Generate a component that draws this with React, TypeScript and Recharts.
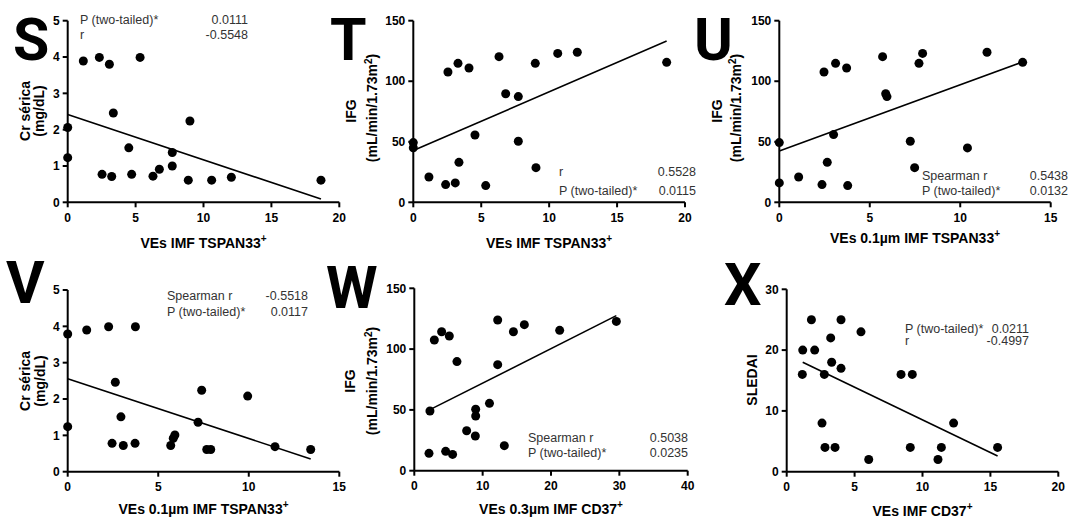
import React from 'react';
import { ComposedChart, Scatter, XAxis, YAxis, ReferenceLine } from 'recharts';

const FONT = 'Arial, "Liberation Sans", Helvetica, sans-serif';
const LETTER_FONT = 'Roboto, "Liberation Sans", sans-serif';
const W = 1073;
const H = 523;

// tick labels
const ticks0to20 = [0, 5, 10, 15, 20];
const ticks0to15 = [0, 5, 10, 15];
const ticks0to40 = [0, 10, 20, 30, 40];
const ticks0to5 = [0, 1, 2, 3, 4, 5];
const ticks0to150 = [0, 50, 100, 150];
const ticks0to30 = [0, 10, 20, 30];

// S: Cr sérica vs VEs IMF TSPAN33+
const sX = [0, 0, 1.15, 2.33, 3.07, 5.33, 3.36, 9.0, 4.5, 7.7, 7.7, 6.75, 6.28, 2.53, 3.24, 4.71, 8.88, 10.6, 12.05, 18.65];
const sY = [2.06, 1.23, 3.89, 3.99, 3.8, 3.99, 2.46, 2.24, 1.5, 1.37, 1.0, 0.91, 0.72, 0.77, 0.71, 0.77, 0.61, 0.61, 0.69, 0.61];
const sFit = [[0, 2.42], [18.65, 0.09]];
const sStats = [['P (two-tailed)*', '0.0111'], ['r', '-0.5548']];

// T: IFG vs VEs IMF TSPAN33+
const tX = [0, 0, 1.15, 2.38, 3.09, 3.36, 2.55, 3.29, 4.1, 4.54, 5.33, 6.31, 6.8, 7.73, 7.73, 8.98, 9.03, 10.63, 12.07, 18.65];
const tY = [49.3, 45.1, 20.9, 14.6, 16.0, 33.0, 107.6, 114.8, 110.9, 55.6, 13.8, 120.3, 89.7, 87.3, 50.4, 114.8, 28.6, 123.0, 123.9, 115.6];
const tFit = [[0, 42.7], [18.65, 133.2]];
const tStats = [['r', '0.5528'], ['P (two-tailed)*', '0.0115']];

// U: IFG vs VEs 0.1um IMF TSPAN33+
const uX = [0, 0, 1.07, 2.36, 2.65, 3.0, 2.47, 3.11, 3.72, 3.78, 5.71, 5.88, 5.95, 7.24, 7.48, 7.72, 7.92, 10.4, 11.48, 13.45];
const uY = [49.3, 16.0, 20.9, 14.6, 33.0, 55.9, 107.6, 114.8, 110.9, 13.8, 120.3, 89.7, 87.3, 50.4, 28.6, 114.8, 123.0, 44.9, 123.9, 115.6];
const uFit = [[0, 42.4], [13.45, 115.9]];
const uStats = [['Spearman r', '0.5438'], ['P (two-tailed)*', '0.0132']];

// V: Cr sérica vs VEs 0.1um IMF TSPAN33+
const vX = [0, 0, 1.05, 2.26, 3.74, 2.63, 2.94, 2.45, 3.07, 3.72, 5.69, 5.83, 5.92, 7.2, 7.4, 7.68, 7.9, 9.94, 11.45, 13.42];
const vY = [3.79, 1.24, 3.9, 3.99, 3.99, 2.46, 1.51, 0.78, 0.72, 0.78, 0.72, 0.92, 1.01, 1.36, 2.24, 0.61, 0.61, 2.08, 0.69, 0.61];
const vFit = [[0, 2.56], [13.42, 0.35]];
const vStats = [['Spearman r', '-0.5518'], ['P (two-tailed)*', '0.0117']];

// W: IFG vs VEs 0.3um IMF CD37+
const wX = [2.29, 2.15, 2.93, 4.0, 5.12, 6.24, 4.59, 5.6, 7.66, 8.98, 8.98, 8.93, 11.0, 12.2, 12.2, 13.17, 14.5, 16.1, 21.27, 29.56];
const wY = [49.1, 14.3, 107.5, 114.3, 110.8, 89.7, 15.9, 13.4, 32.9, 50.5, 45.0, 28.5, 55.4, 123.9, 87.2, 20.6, 114.3, 120.1, 115.4, 122.8];
const wFit = [[2.29, 50.2], [29.56, 127.5]];
const wStats = [['Spearman r', '0.5038'], ['P (two-tailed)*', '0.0235']];

// X: SLEDAI vs VEs IMF CD37+
const xX = [1.18, 1.15, 1.82, 2.06, 2.6, 2.82, 2.77, 3.24, 3.31, 3.56, 4.0, 4.0, 5.47, 6.04, 8.42, 9.25, 9.1, 11.14, 11.39, 12.29, 15.53];
const xY = [20, 16, 25, 20, 8, 4, 16, 22, 18, 4, 25, 17, 23, 2, 16, 16, 4, 2, 4, 8, 4];
const xFit = [[1.18, 18.0], [15.53, 2.58]];
const xStats = [['P (two-tailed)*', '0.0211'], ['r', '-0.4997']];

const toPoints = (xs: number[], ys: number[]) => xs.map((x, i) => ({ x, y: ys[i] }));

const panels = [
  { id: 'S', xs: sX, ys: sY, fit: sFit, xDomain: [0, 20], xTicks: ticks0to20, yDomain: [0, 5], yTicks: ticks0to5, l: 67.7, r: 339.3, t: 20.7, b: 202.3 },
  { id: 'T', xs: tX, ys: tY, fit: tFit, xDomain: [0, 20], xTicks: ticks0to20, yDomain: [0, 150], yTicks: ticks0to150, l: 413.3, r: 685, t: 20.7, b: 202.3 },
  { id: 'U', xs: uX, ys: uY, fit: uFit, xDomain: [0, 15], xTicks: ticks0to15, yDomain: [0, 150], yTicks: ticks0to150, l: 779.3, r: 1050.7, t: 20.7, b: 202.3 },
  { id: 'V', xs: vX, ys: vY, fit: vFit, xDomain: [0, 15], xTicks: ticks0to15, yDomain: [0, 5], yTicks: ticks0to5, l: 67.7, r: 339.3, t: 290, b: 471.7 },
  { id: 'W', xs: wX, ys: wY, fit: wFit, xDomain: [0, 40], xTicks: ticks0to40, yDomain: [0, 150], yTicks: ticks0to150, l: 414.3, r: 687.7, t: 288.3, b: 470.7 },
  { id: 'X', xs: xX, ys: xY, fit: xFit, xDomain: [0, 20], xTicks: ticks0to20, yDomain: [0, 30], yTicks: ticks0to30, l: 786.7, r: 1058.3, t: 289.3, b: 471.7 },
];

const axisStroke = { stroke: '#000', strokeWidth: 2 };
const tickStyle = { fill: '#000', fontSize: 12, fontWeight: 700, fontFamily: FONT };

const Dot = (p: any) => <circle cx={p.cx} cy={p.cy} r={4.5} fill="#000" />;

const Panel = ({ p }: { p: (typeof panels)[number] }) => (
  <div style={{ position: 'absolute', left: 0, top: 0 }}>
    <ComposedChart
      width={W}
      height={H}
      margin={{ left: p.l - 40, right: W - p.r, top: p.t, bottom: H - p.b - 30 }}
    >
      <XAxis
        type="number"
        dataKey="x"
        domain={p.xDomain}
        ticks={p.xTicks}
        interval={0}
        height={30}
        tickSize={5}
        tickMargin={6}
        axisLine={axisStroke}
        tickLine={axisStroke}
        tick={tickStyle}
      />
      <YAxis
        type="number"
        dataKey="y"
        domain={p.yDomain}
        ticks={p.yTicks}
        interval={0}
        width={40}
        tickSize={5}
        tickMargin={3}
        axisLine={axisStroke}
        tickLine={axisStroke}
        tick={tickStyle}
      />
      <ReferenceLine
        segment={[{ x: p.fit[0][0], y: p.fit[0][1] }, { x: p.fit[1][0], y: p.fit[1][1] }]}
        stroke="#000"
        strokeWidth={1.6}
      />
      <Scatter data={toPoints(p.xs, p.ys)} shape={Dot} isAnimationActive={false} />
    </ComposedChart>
  </div>
);

const Stats = ({ rows, left, right, y0, y1 }: { rows: string[][]; left: number; right: number; y0: number; y1: number }) => (
  <g fontFamily={FONT} fontSize={12.5} fill="#333">
    <text x={left} y={y0}>{rows[0][0]}</text>
    <text x={right} y={y0} textAnchor="end">{rows[0][1]}</text>
    <text x={left} y={y1}>{rows[1][0]}</text>
    <text x={right} y={y1} textAnchor="end">{rows[1][1]}</text>
  </g>
);

const XTitle = ({ x, y, text, sup }: { x: number; y: number; text: string; sup: string }) => (
  <text x={x} y={y} textAnchor="middle" fontFamily={FONT} fontSize={14} fontWeight={700} fill="#000">
    {text}
    <tspan dy={-6} fontSize={10}>{sup}</tspan>
  </text>
);

const YTitle = ({ x, y, children }: { x: number; y: number; children: React.ReactNode }) => (
  <text
    transform={`translate(${x},${y}) rotate(-90)`}
    textAnchor="middle"
    fontFamily={FONT}
    fontSize={14}
    fontWeight={700}
    fill="#000"
  >
    {children}
  </text>
);

const Units = () => (
  <>
    (mL/min/1.73m<tspan dy={-5} fontSize={10}>2</tspan>
    <tspan dy={5}>)</tspan>
  </>
);

const Letter = ({ x, y, ch }: { x: number; y: number; ch: string }) => (
  <text x={x} y={y} fontFamily={LETTER_FONT} fontSize={59} fontWeight={700} fill="#000">
    {ch}
  </text>
);

export default function App() {
  return (
    <div style={{ position: 'absolute', left: 0, top: 0, width: W, height: H, background: '#fff', overflow: 'hidden' }}>
      {panels.map((p) => (
        <Panel key={p.id} p={p} />
      ))}
      <svg width={W} height={H} style={{ position: 'absolute', left: 0, top: 0, pointerEvents: 'none' }}>
        <Letter x={13} y={60} ch="S" />
        <Letter x={330} y={60} ch="T" />
        <Letter x={694} y={60} ch="U" />
        <Letter x={6} y={303} ch="V" />
        <Letter x={326} y={308} ch="W" />
        <Letter x={724} y={305} ch="X" />

        <Stats rows={sStats} left={80} right={248} y0={24} y1={39} />
        <Stats rows={tStats} left={559} right={696} y0={176} y1={195} />
        <Stats rows={uStats} left={922} right={1068} y0={180} y1={195} />
        <Stats rows={vStats} left={167} right={308} y0={300} y1={316} />
        <Stats rows={wStats} left={528} right={688} y0={442} y1={457} />
        <Stats rows={xStats} left={905} right={1029} y0={333} y1={345} />

        <XTitle x={203.5} y={248} text="VEs IMF TSPAN33" sup="+" />
        <XTitle x={549} y={248} text="VEs IMF TSPAN33" sup="+" />
        <XTitle x={915} y={243} text="VEs 0.1µm IMF TSPAN33" sup="+" />
        <XTitle x={203.5} y={514} text="VEs 0.1µm IMF TSPAN33" sup="+" />
        <XTitle x={551} y={514} text="VEs 0.3µm IMF CD37" sup="+" />
        <XTitle x={922.5} y={516} text="VEs IMF CD37" sup="+" />

        <YTitle x={30} y={111}>Cr sérica</YTitle>
        <YTitle x={44} y={111}>(mg/dL)</YTitle>
        <YTitle x={356} y={111}>IFG</YTitle>
        <YTitle x={377} y={108}><Units /></YTitle>
        <YTitle x={722} y={111}>IFG</YTitle>
        <YTitle x={741} y={108}><Units /></YTitle>
        <YTitle x={30} y={381}>Cr sérica</YTitle>
        <YTitle x={45} y={381}>(mg/dL)</YTitle>
        <YTitle x={355} y={381}>IFG</YTitle>
        <YTitle x={377} y={381}><Units /></YTitle>
        <YTitle x={757} y={380}>SLEDAI</YTitle>
      </svg>
    </div>
  );
}
